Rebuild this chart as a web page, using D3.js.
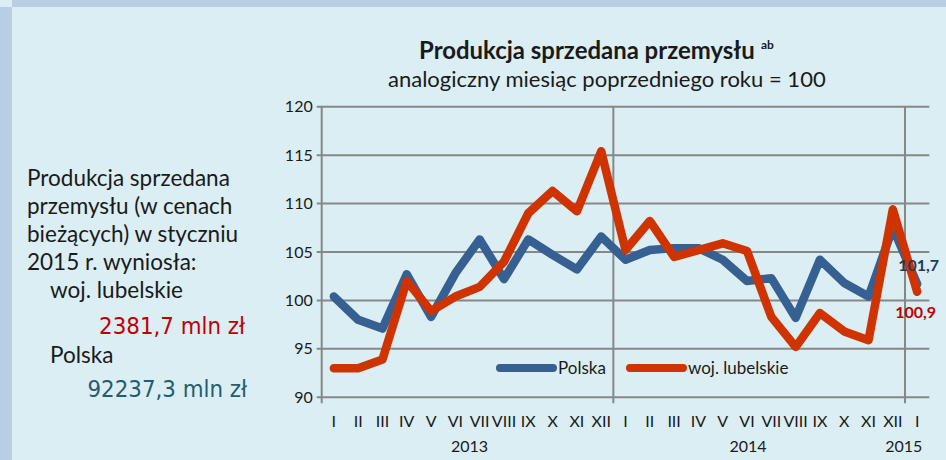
<!DOCTYPE html>
<html><head><meta charset="utf-8">
<script src="https://cdn.jsdelivr.net/npm/d3@7"></script>
<style>html,body{margin:0;padding:0;background:#daeef3;}svg{display:block;}</style>
</head><body>
<svg id="chart" width="946" height="460"></svg>
<script>
const months = ["I","II","III","IV","V","VI","VII","VIII","IX","X","XI","XII",
                "I","II","III","IV","V","VI","VII","VIII","IX","X","XI","XII","I"];
const yearLabels = ["2013","2014","2015"];
const yearStarts = [0, 12, 24];
const polska = [100.4, 98.0, 97.1, 102.7, 98.3, 102.8, 106.3, 102.2, 106.3, 104.7, 103.2, 106.6,
                104.2, 105.2, 105.4, 105.4, 104.2, 102.0, 102.3, 98.2, 104.2, 101.8, 100.4, 107.5, 101.7];
const lubelskie = [93.0, 93.0, 93.9, 102.0, 98.9, 100.4, 101.4, 104.0, 109.0, 111.3, 109.2, 115.4,
                   105.2, 108.2, 104.5, 105.2, 105.9, 105.1, 98.3, 95.2, 98.7, 96.8, 95.9, 109.4, 100.9];
const seriesNames = ["Polska", "woj. lubelskie"];
const yTicks = [90, 95, 100, 105, 110, 115, 120];
const endLabels = ["101,7", "100,9"];
const titleText = "Produkcja sprzedana przemysłu";
const titleSup = "ab";
const subtitleText = "analogiczny miesiąc poprzedniego roku = 100";
const sideText = ["Produkcja sprzedana", "przemysłu (w cenach", "bieżących) w styczniu", "2015 r. wyniosła:"];
const sideItems = ["woj. lubelskie", "Polska"];
const sideValues = ["2381,7 mln zł", "92237,3 mln zł"];

(function () {
const W = 946, H = 460;
const svg = d3.select("#chart");
const FONT = "Lato, 'Open Sans', sans-serif";
const NUMFONT = "'DejaVu Sans Condensed', 'DejaVu Sans', sans-serif";
function fit(sel, target) {
  const base = +sel.attr("font-size");
  const w = sel.node().getComputedTextLength();
  if (w > 0) sel.attr("font-size", base * target / w);
  return +sel.attr("font-size");
}

svg.append("rect").attr("x",0).attr("y",0).attr("width",W).attr("height",H).attr("fill","#daeef3");
svg.append("rect").attr("x",12).attr("y",0).attr("width",W-12).attr("height",7).attr("fill","#b9cde5");
svg.append("rect").attr("x",0).attr("y",7).attr("width",12).attr("height",H-7).attr("fill","#b9cde5");

const pL = 321.7, pR = 929.3, pT = 106.7, pB = 397.3;
const x = d3.scaleBand().domain(d3.range(months.length)).range([pL, pR]).padding(0);
const y = d3.scaleLinear().domain([90, 120]).range([pB, pT]);
const cx = i => x(i) + x.bandwidth() / 2;
const gridColor = "#878787";

svg.append("g").selectAll("line").data(yTicks).join("line")
  .attr("x1", pL - 5).attr("x2", pR)
  .attr("y1", d => y(d)).attr("y2", d => y(d))
  .attr("stroke", gridColor).attr("stroke-width", 2);

svg.append("g").selectAll("line").data(yearStarts).join("line")
  .attr("x1", d => x(d)).attr("x2", d => x(d))
  .attr("y1", pT).attr("y2", pB + 6)
  .attr("stroke", gridColor).attr("stroke-width", 2);

const yAxis = d3.axisLeft(y).tickValues(yTicks).tickSize(0).tickPadding(9);
const gy = svg.append("g").attr("transform", `translate(${pL},0)`).call(yAxis);
gy.select(".domain").remove();
gy.selectAll("text").attr("font-family", FONT).attr("font-size", 16).attr("fill", "#1a1a1a");

const xAxis = d3.axisBottom(x).tickFormat(i => months[i]).tickSize(0).tickPadding(18);
const gx = svg.append("g").attr("transform", `translate(0,${pB})`).call(xAxis);
gx.select(".domain").remove();
gx.selectAll("text").attr("font-family", FONT).attr("font-size", 16).attr("fill", "#1a1a1a");

yearLabels.forEach((lab, k) => {
  const s = yearStarts[k];
  const e = k < yearStarts.length - 1 ? yearStarts[k + 1] : months.length;
  let px, anchor = "middle";
  if (k === 0) px = (x(s) + x(e - 1) + x.bandwidth()) / 2 + 2;
  else if (k === yearLabels.length - 1) { px = pR - 7; anchor = "end"; }
  else px = cx(s + 5) + 1;
  svg.append("text").attr("x", px).attr("y", 452)
    .attr("text-anchor", anchor).attr("font-family", FONT).attr("font-size", 16)
    .attr("fill", "#1a1a1a").text(lab);
});

const colors = ["#376092", "#cf3400"];
const line = d3.line().x((d, i) => cx(i)).y(d => y(d));
[polska, lubelskie].forEach((data, k) => {
  svg.append("path").datum(data).attr("d", line)
    .attr("fill", "none").attr("stroke", colors[k]).attr("stroke-width", 8.5)
    .attr("stroke-linejoin", "round").attr("stroke-linecap", "round");
});

const last = months.length - 1;
svg.append("text").attr("x", cx(last) + 22).attr("y", y(polska[last]) - 13)
  .attr("text-anchor", "end").attr("font-family", FONT).attr("font-weight", "bold")
  .attr("font-size", 16).attr("fill", "#1f3a5f").text(endLabels[0]);
svg.append("text").attr("x", cx(last) + 19).attr("y", y(lubelskie[last]) + 26)
  .attr("text-anchor", "end").attr("font-family", FONT).attr("font-weight", "bold")
  .attr("font-size", 16).attr("fill", "#c00000").text(endLabels[1]);

const legX = [500, 630], legY = 368;
seriesNames.forEach((n, k) => {
  svg.append("line").attr("x1", legX[k]).attr("x2", legX[k] + 53)
    .attr("y1", legY).attr("y2", legY)
    .attr("stroke", colors[k]).attr("stroke-width", 8).attr("stroke-linecap", "round");
  svg.append("text").attr("x", legX[k] + 58).attr("y", legY + 6)
    .attr("font-family", FONT).attr("font-size", 17).attr("fill", "#1a1a1a").text(n);
});

// titles
const tMain = svg.append("text").attr("x", 419).attr("y", 59)
  .attr("font-family", FONT).attr("font-size", 20).attr("font-weight", "bold")
  .attr("fill", "#1a1a1a").text(titleText);
fit(tMain, 336);
svg.append("text").attr("x", 419 + 336 + 6).attr("y", 49)
  .attr("font-family", FONT).attr("font-size", 12).attr("font-weight", "bold")
  .attr("fill", "#1a1a1a").text(titleSup);
const sub = svg.append("text").attr("x", 388).attr("y", 87)
  .attr("font-family", FONT).attr("font-size", 20).attr("fill", "#1a1a1a")
  .text(subtitleText);
fit(sub, 438);

// side text
const s0 = svg.append("text").attr("x", 27).attr("y", 186)
  .attr("font-family", FONT).attr("font-size", 20).attr("fill", "#1a1a1a").text(sideText[0]);
const sideSize = fit(s0, 203);
sideText.slice(1).forEach((s, i) => {
  svg.append("text").attr("x", 27).attr("y", 214 + i * 28)
    .attr("font-family", FONT).attr("font-size", sideSize).attr("fill", "#1a1a1a").text(s);
});
svg.append("text").attr("x", 50).attr("y", 298).attr("font-family", FONT).attr("font-size", sideSize)
  .attr("fill", "#1a1a1a").text(sideItems[0]);
const v0 = svg.append("text").attr("x", 245).attr("y", 334).attr("text-anchor", "end")
  .attr("font-family", NUMFONT).attr("font-size", 20)
  .attr("fill", "#c00000").text(sideValues[0]);
const numSize = fit(v0, 146);
svg.append("text").attr("x", 50).attr("y", 363).attr("font-family", FONT).attr("font-size", sideSize)
  .attr("fill", "#1a1a1a").text(sideItems[1]);
svg.append("text").attr("x", 247).attr("y", 396.5).attr("text-anchor", "end")
  .attr("font-family", NUMFONT).attr("font-size", numSize)
  .attr("fill", "#245d6e").text(sideValues[1]);
})();
</script>
</body></html>
